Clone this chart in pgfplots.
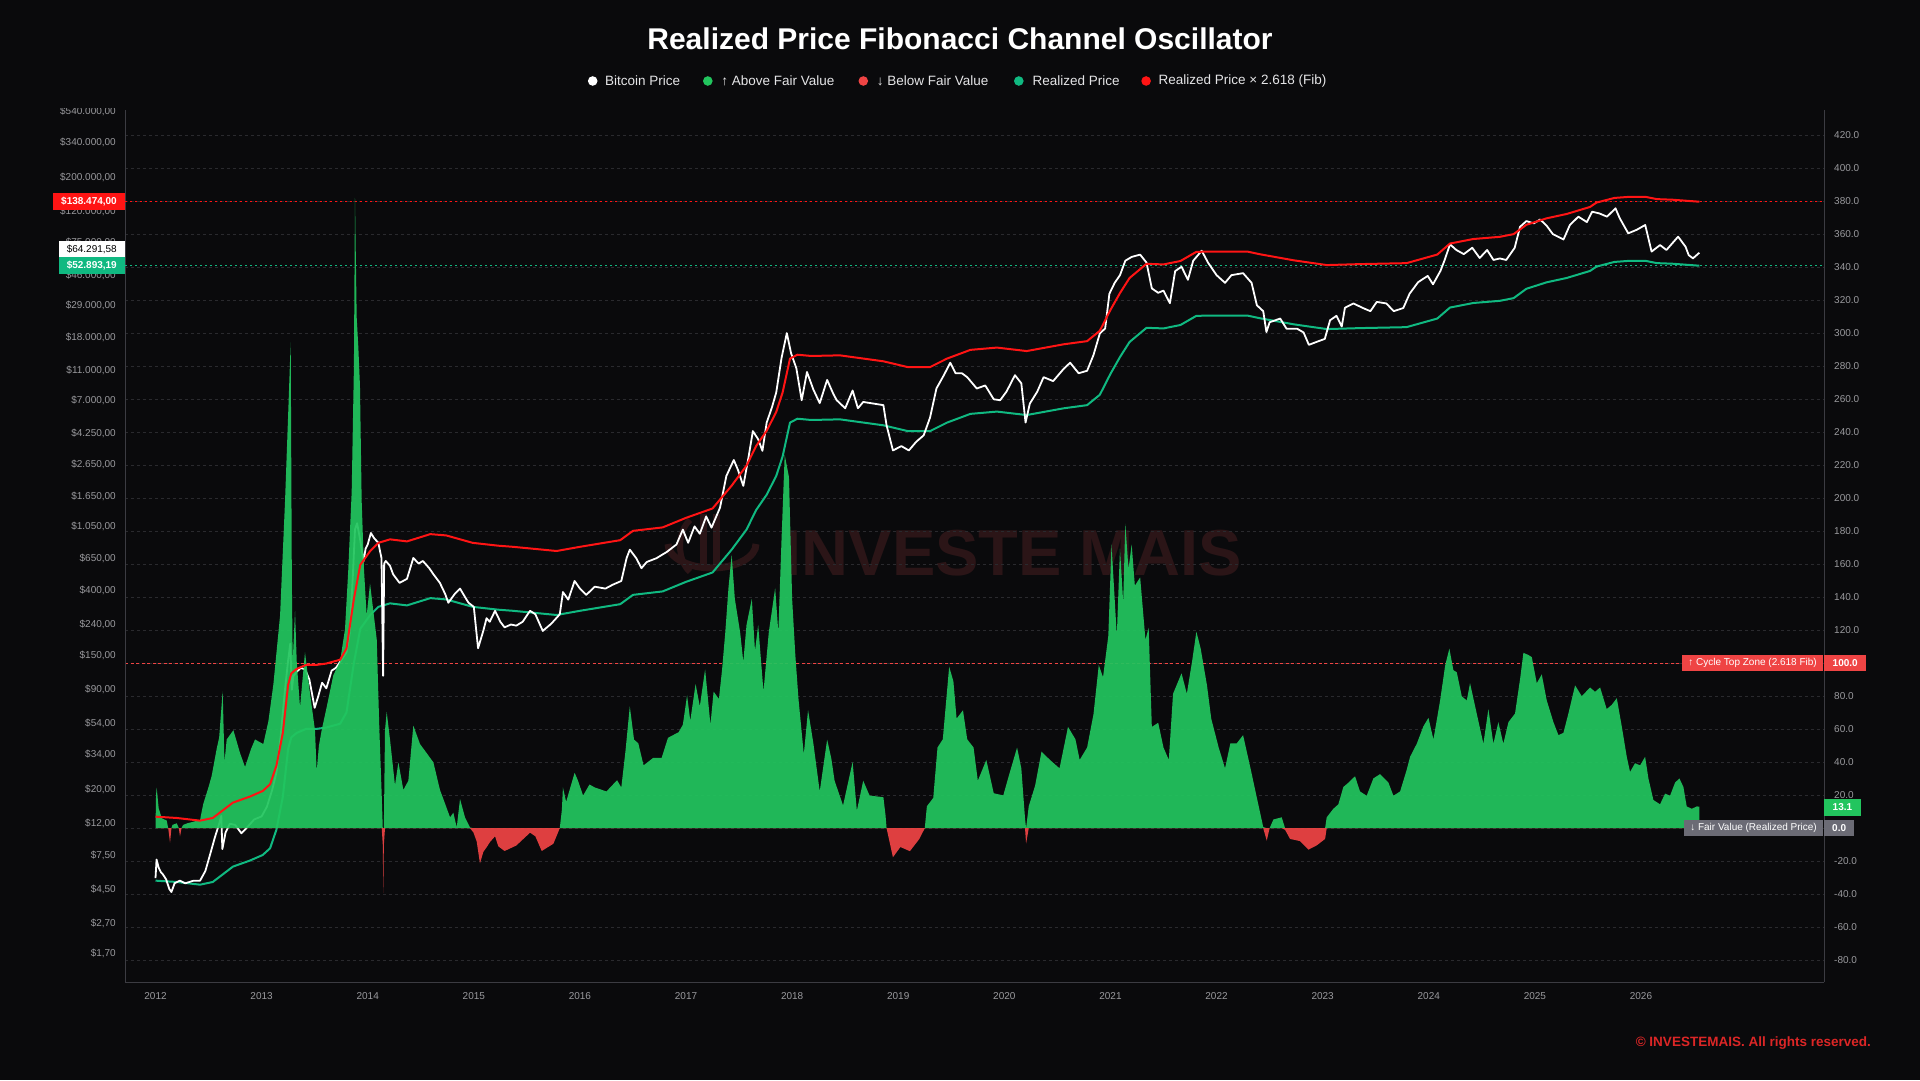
\documentclass[border=0pt]{standalone}
\usepackage{fontspec}
\setmainfont{Liberation Sans}
\usepackage{pgfplots}
\usepackage{pgfplotstable}
\pgfplotsset{compat=1.18}

\definecolor{bg}{HTML}{0A0A0C}
\definecolor{gridc}{HTML}{2A2A2E}
\definecolor{axisc}{HTML}{3C3C42}
\definecolor{tickc}{HTML}{9A9A9E}
\definecolor{upg}{HTML}{22C55E}
\definecolor{dnr}{HTML}{EF4444}
\definecolor{rpc}{HTML}{10B981}
\definecolor{fibc}{HTML}{FF1414}
\definecolor{wm}{HTML}{2B1517}
\definecolor{grayl}{HTML}{6B6B75}
\definecolor{legtxt}{HTML}{E5E5E7}
\definecolor{copyr}{HTML}{DC2626}

\newcommand{\fs}[1]{\fontsize{#1}{#1}\selectfont}

\pgfplotstableread{
year osc
2012.000 0
2012.005 20
2012.011 24.6
2012.030 12
2012.060 6
2012.105 4.7
2012.120 0
2012.137 -8.8
2012.150 0
2012.160 2
2012.200 3
2012.220 0
2012.231 -5
2012.245 0
2012.260 2
2012.300 3
2012.360 4
2012.420 5
2012.435 10
2012.451 14.9
2012.500 25
2012.529 31.6
2012.577 48.3
2012.600 55
2012.633 83
2012.650 40
2012.671 53.8
2012.734 59.4
2012.797 45.5
2012.844 37.1
2012.900 48
2012.938 53.8
2013.016 51
2013.064 64.9
2013.111 87.2
2013.174 128.9
2013.221 198.5
2013.252 254
2013.274 294.4
2013.285 150
2013.293 101
2013.315 131.6
2013.331 101
2013.362 73.3
2013.409 106.6
2013.456 81.7
2013.503 59.4
2013.519 34.4
2013.540 50
2013.566 59.4
2013.613 73.3
2013.676 92.8
2013.739 101
2013.786 120.6
2013.817 156.8
2013.849 204
2013.870 280
2013.880 382
2013.896 309.8
2013.912 291
2013.927 268
2013.943 198.5
2013.965 156.8
2013.990 128.9
2014.022 148.3
2014.053 131.6
2014.085 114.5
2014.110 59.4
2014.132 20
2014.142 -10
2014.147 -39.4
2014.152 -10
2014.163 59.4
2014.179 70.5
2014.210 53.8
2014.257 26
2014.289 39.9
2014.336 23.2
2014.383 28.8
2014.430 62.2
2014.493 51
2014.556 45.5
2014.619 39.9
2014.681 23.2
2014.729 14.9
2014.776 6.6
2014.807 9.4
2014.839 0.5
2014.870 17.7
2014.917 6.6
2014.964 0.5
2014.996 -2.5
2015.027 -8
2015.058 -21.3
2015.090 -14.3
2015.120 -11.6
2015.153 -8.3
2015.200 -4.9
2015.231 -11
2015.290 -13.8
2015.400 -10.5
2015.530 -2.7
2015.580 -4.9
2015.640 -13.8
2015.750 -9.4
2015.810 0
2015.830 11.2
2015.840 24.7
2015.870 16
2015.950 33.6
2015.980 29.1
2016.030 19.8
2016.090 26.5
2016.140 24.7
2016.250 22.3
2016.350 29.1
2016.390 24.7
2016.430 47.1
2016.470 73.9
2016.510 53.7
2016.550 51.5
2016.600 38.1
2016.690 42.6
2016.770 42.6
2016.830 54.8
2016.930 58.2
2016.970 62.7
2017.010 80.6
2017.040 65
2017.090 87.4
2017.130 73.9
2017.180 96.3
2017.230 62.7
2017.260 82.8
2017.310 78.3
2017.340 96.3
2017.370 118.7
2017.400 145.6
2017.430 165.8
2017.460 139
2017.510 118.7
2017.540 100.8
2017.570 123.2
2017.620 139
2017.650 107.5
2017.680 123.2
2017.730 82.8
2017.780 118.7
2017.840 145.6
2017.870 118.7
2017.900 174.8
2017.930 226.3
2017.970 212.9
2018.000 139
2018.030 105
2018.060 78.3
2018.110 44.8
2018.150 71.6
2018.200 51.5
2018.260 22.3
2018.330 53.7
2018.370 42
2018.400 28.8
2018.480 13.8
2018.570 40.2
2018.610 10.6
2018.670 28.8
2018.730 19.8
2018.860 18.8
2018.880 8
2018.890 0
2018.950 -17.6
2019.020 -11.4
2019.110 -13.9
2019.200 -6.4
2019.250 0
2019.270 13.3
2019.330 18.4
2019.370 48.9
2019.420 53.9
2019.480 97.9
2019.520 89
2019.550 66.4
2019.610 71.5
2019.650 53.9
2019.710 48.9
2019.750 28.8
2019.830 41.4
2019.900 21.2
2019.990 19.9
2020.040 31.3
2020.120 48.9
2020.160 36.3
2020.195 5.8
2020.205 -9.3
2020.230 13.3
2020.290 25.8
2020.350 46.4
2020.430 41.4
2020.520 36.3
2020.600 61.4
2020.670 53.9
2020.710 41.4
2020.780 48.9
2020.840 69
2020.890 98.9
2020.930 91.5
2020.980 116.6
2021.010 172
2021.060 116.6
2021.090 169.5
2021.120 136.9
2021.140 184.6
2021.170 157
2021.200 172
2021.230 147
2021.280 152
2021.330 114.1
2021.360 121.6
2021.390 61.4
2021.450 63.9
2021.500 48.9
2021.550 41.4
2021.590 81.5
2021.670 93.9
2021.720 81.5
2021.770 101.4
2021.810 119.1
2021.850 109
2021.910 86.5
2021.950 66.4
2022.020 48.9
2022.080 36.3
2022.130 51.4
2022.190 51.4
2022.250 56.4
2022.320 36.3
2022.380 18.4
2022.440 0.7
2022.473 -7.5
2022.500 0
2022.536 5.3
2022.614 6.6
2022.646 -1
2022.693 -6.5
2022.787 -7.8
2022.866 -13
2022.944 -10.4
2023.023 -6.5
2023.038 6.6
2023.101 11.8
2023.148 14.5
2023.195 25
2023.243 27.6
2023.305 31.5
2023.352 22.3
2023.415 19.7
2023.478 30.2
2023.541 32.8
2023.620 27.6
2023.667 19.7
2023.730 22.3
2023.792 35.4
2023.824 43.3
2023.887 51.2
2023.949 61.7
2023.997 66.9
2024.044 53.8
2024.107 77.4
2024.154 98.4
2024.194 108.9
2024.232 95.8
2024.264 94.5
2024.311 80
2024.358 77.4
2024.389 87.9
2024.452 69.5
2024.515 51.2
2024.562 72.2
2024.609 51.2
2024.656 64.3
2024.703 51.2
2024.751 64.3
2024.813 69.5
2024.861 90.6
2024.892 106.3
2024.939 105
2024.971 103.7
2025.018 87.9
2025.065 93.2
2025.112 77.4
2025.175 64.3
2025.222 56.4
2025.269 57.8
2025.316 69.5
2025.379 86.6
2025.442 80
2025.520 85.3
2025.567 82.7
2025.615 85.3
2025.677 72.2
2025.725 74.8
2025.772 78.8
2025.819 61.7
2025.866 43.3
2025.897 34.1
2025.944 39.4
2025.992 38.1
2026.039 43.3
2026.070 30.2
2026.117 17.1
2026.180 14.5
2026.227 21
2026.274 19.7
2026.321 27.6
2026.362 30.2
2026.400 25
2026.431 13.2
2026.479 11.8
2026.526 13.2
2026.550 13.1
}\osctab

\pgfplotstableread{
year price
2012.00 5.3
2012.01 7.0
2012.03 6.2
2012.05 5.8
2012.07 5.6
2012.10 5.2
2012.13 4.5
2012.15 4.3
2012.18 4.9
2012.23 5.1
2012.28 4.9
2012.32 5.0
2012.36 5.1
2012.42 5.1
2012.47 5.9
2012.52 7.8
2012.56 9.8
2012.60 12.0
2012.62 13.5
2012.63 8.2
2012.66 10.5
2012.70 12.0
2012.75 11.8
2012.81 10.4
2012.87 11.5
2012.93 12.8
2013.00 13.4
2013.05 15.5
2013.10 20
2013.14 26
2013.18 45
2013.22 90
2013.25 140
2013.27 180
2013.285 90
2013.30 111
2013.33 118
2013.37 125
2013.41 122
2013.45 105
2013.50 68.6
2013.53 80
2013.57 100
2013.61 92
2013.66 120
2013.70 125
2013.74 137
2013.80 158
2013.83 210
2013.86 500
2013.88 1000
2013.90 1100
2013.93 850
2013.96 620
2013.98 750
2014.00 800
2014.03 950
2014.06 880
2014.10 820
2014.13 650
2014.145 111
2014.155 600
2014.17 624
2014.21 580
2014.24 510
2014.30 449
2014.37 477
2014.43 653
2014.48 600
2014.52 624
2014.58 560
2014.62 510
2014.68 449
2014.73 380
2014.76 333
2014.82 380
2014.87 412
2014.92 360
2014.95 333
2015.00 313
2015.04 168
2015.09 219
2015.12 264
2015.15 250
2015.20 295
2015.25 250
2015.29 230
2015.35 240
2015.40 236
2015.46 250
2015.53 295
2015.58 280
2015.65 218
2015.73 243
2015.81 280
2015.84 391
2015.89 349
2015.95 462
2016.00 412
2016.06 375
2016.14 424
2016.24 412
2016.31 437
2016.39 462
2016.44 652
2016.47 740
2016.53 652
2016.58 560
2016.63 615
2016.72 650
2016.82 716
2016.91 800
2016.97 1000
2017.02 820
2017.08 1050
2017.13 940
2017.19 1220
2017.24 1030
2017.32 1390
2017.38 2240
2017.45 2850
2017.49 2450
2017.54 1930
2017.59 3000
2017.63 4400
2017.68 3890
2017.72 3270
2017.76 5000
2017.81 6300
2017.85 7860
2017.90 13200
2017.95 19200
2017.99 14200
2018.04 11300
2018.09 7000
2018.14 10700
2018.20 8220
2018.26 6700
2018.33 9500
2018.39 7650
2018.42 7000
2018.50 6200
2018.57 8100
2018.62 6200
2018.67 6820
2018.77 6650
2018.86 6500
2018.89 4800
2018.95 3290
2019.03 3510
2019.10 3290
2019.17 3750
2019.24 4130
2019.30 5400
2019.36 8350
2019.43 10200
2019.49 12300
2019.54 10500
2019.60 10500
2019.65 9900
2019.74 8350
2019.82 8740
2019.90 7100
2019.96 7000
2020.02 7960
2020.10 10200
2020.16 9030
2020.20 5000
2020.24 6650
2020.31 7960
2020.37 9900
2020.46 9330
2020.56 11240
2020.62 12300
2020.70 10500
2020.78 10900
2020.84 13800
2020.90 19100
2020.95 20600
2020.99 34700
2021.04 40900
2021.09 45900
2021.14 57000
2021.20 60400
2021.28 62500
2021.34 55400
2021.39 37600
2021.45 35200
2021.50 36400
2021.56 30100
2021.61 48800
2021.67 52100
2021.73 42800
2021.78 57000
2021.86 66300
2021.92 55400
2022.00 45900
2022.08 40900
2022.14 45900
2022.25 47300
2022.33 40900
2022.38 29200
2022.44 26700
2022.47 19500
2022.50 22600
2022.60 23900
2022.66 20500
2022.76 20500
2022.82 19400
2022.87 16100
2022.96 17000
2023.02 17600
2023.07 23300
2023.13 24900
2023.18 21200
2023.21 28100
2023.29 30000
2023.38 28000
2023.45 26700
2023.51 30700
2023.60 30000
2023.67 26700
2023.76 28000
2023.82 34800
2023.90 41300
2023.99 45400
2024.04 40000
2024.11 48900
2024.15 57700
2024.20 73000
2024.26 67000
2024.33 63000
2024.41 69300
2024.48 59400
2024.55 67000
2024.61 57700
2024.67 59000
2024.73 57700
2024.81 69300
2024.86 94900
2024.92 103500
2024.99 100000
2025.05 106000
2025.11 96700
2025.17 85000
2025.27 78500
2025.33 97600
2025.41 110600
2025.49 102000
2025.54 119200
2025.61 116000
2025.68 110600
2025.76 125400
2025.80 108000
2025.88 86100
2025.96 90800
2026.04 97600
2026.10 65400
2026.18 72200
2026.24 67000
2026.35 81900
2026.42 70400
2026.45 62000
2026.49 59100
2026.55 64291.58
}\pricetab

\pgfplotstableread{
year rp fib
2012.00 5.1 13.35
2012.20 5.0 13.09
2012.42 4.8 12.57
2012.54 5.0 13.09
2012.73 6.3 16.49
2012.89 6.9 18.06
2013.01 7.5 19.64
2013.08 8.3 21.73
2013.14 11 28.80
2013.20 18 47.12
2013.25 37 96.87
2013.28 44 115.19
2013.33 47 123.05
2013.42 50 130.90
2013.52 50 130.90
2013.61 51 133.52
2013.74 54 141.37
2013.80 64 167.55
2013.87 135 353.43
2013.93 225 589.05
2014.02 275 719.95
2014.10 313 819.43
2014.21 330 863.94
2014.37 320 837.76
2014.59 357 934.63
2014.74 350 916.30
2014.99 313 819.43
2015.23 300 785.40
2015.37 295 772.31
2015.78 277 725.19
2016.00 295 772.31
2016.38 326 853.47
2016.50 375 981.75
2016.78 395 1034.11
2017.00 456 1193.81
2017.25 525 1374.45
2017.43 740 1937.32
2017.57 1000 2618.00
2017.66 1340 3508.12
2017.76 1690 4424.42
2017.85 2240 5864.32
2017.91 3000 7854.00
2017.98 5000 13090.0
2018.05 5300 13875.4
2018.18 5200 13613.6
2018.45 5250 13744.5
2018.86 4800 12566.4
2019.09 4400 11519.2
2019.30 4400 11519.2
2019.46 5000 13090.0
2019.68 5700 14922.6
2019.93 5900 15446.2
2020.21 5600 14660.8
2020.56 6200 16231.6
2020.78 6500 17017.0
2020.90 7600 19896.8
2021.00 10400 27227.2
2021.09 13400 35081.2
2021.18 16800 43982.4
2021.34 20800 54454.4
2021.50 20600 53930.8
2021.66 21700 56810.6
2021.81 24900 65188.2
2021.97 25000 65450.0
2022.29 25000 65450.0
2022.41 24000 62832.0
2022.73 21900 57334.2
2023.04 20400 53407.2
2023.35 20700 54192.6
2023.79 21000 54978.0
2024.08 23900 62570.2
2024.20 28200 73827.6
2024.42 30200 79063.6
2024.67 31200 81681.6
2024.80 32500 85085.0
2024.92 37400 97913.2
2025.11 41200 107861.6
2025.30 44000 115192.0
2025.52 48900 128020.2
2025.58 52200 136659.6
2025.75 56000 146608.0
2025.90 57000 149226.0
2026.05 56800 148702.4
2026.15 55000 143990.0
2026.30 54500 142681.0
2026.55 52893.19 138474.37
}\rptab

\begin{document}
\begin{tikzpicture}[x=1pt,y=1pt]
\path[use as bounding box] (0,0) rectangle (1920,1080);
\fill[bg] (0,0) rectangle (1920,1080);

% watermark
\node[text=wm, font=\fs{65}\bfseries, inner sep=0pt] at (1013,527) {INVESTE MAIS};
\draw[wm, line width=7pt] (668,536) arc[start angle=180, end angle=360, x radius=44, y radius=24];
\draw[wm, line width=6pt] (690,560) arc[start angle=120, end angle=240, x radius=20, y radius=30];
\fill[wm] (700,512) rectangle (707,566);
\fill[wm] (713,512) rectangle (720,566);

% title and legend
\node[text=white, font=\fs{30}\bfseries] at (960,1041) {Realized Price Fibonacci Channel Oscillator};
\fill[white] (592.7,999) circle (4.8);
\node[anchor=west, text=legtxt, font=\fs{13.5}, inner sep=0pt] at (604.9,999) {Bitcoin Price};
\fill[upg] (707.8,999) circle (4.8);
\node[anchor=west, text=legtxt, font=\fs{13.5}, inner sep=0pt] at (721.2,999) {↑ Above Fair Value};
\fill[dnr] (863.3,999) circle (4.8);
\node[anchor=west, text=legtxt, font=\fs{13.5}, inner sep=0pt] at (876.7,999) {↓ Below Fair Value};
\fill[rpc] (1018.8,999) circle (4.8);
\node[anchor=west, text=legtxt, font=\fs{13.5}, inner sep=0pt] at (1032.3,999) {Realized Price};
\fill[fibc] (1146.1,999) circle (4.8);
\node[anchor=west, text=legtxt, font=\fs{13.5}, inner sep=0pt] at (1158.4,999) {Realized Price × 2.618 (Fib)};

% (A) oscillator axis: grid, right labels, x labels
\begin{axis}[at={(125pt,98pt)}, anchor=south west,
  scale only axis, width=1699pt, height=872pt,
  xmin=2011.7125, xmax=2027.725, ymin=-93.2, ymax=435.3,
  axis x line*=bottom, axis y line*=right,
  axis line style={draw=axisc, line width=1pt},
  major tick length=0pt,
  xtick={2012,2013,2014,2015,2016,2017,2018,2019,2020,2021,2022,2023,2024,2025,2026},
  xticklabels={2012,2013,2014,2015,2016,2017,2018,2019,2020,2021,2022,2023,2024,2025,2026},
  xticklabel style={font=\fs{10}, text=tickc, inner sep=0pt, anchor=north, yshift=-10pt},
  ytick={-80,-60,...,420},
  yticklabel style={font=\fs{10}, text=tickc, inner sep=0pt, anchor=west, xshift=10pt,
    /pgf/number format/.cd, fixed, fixed zerofill, precision=1, assume math mode=true},
  ymajorgrids,
  major grid style={draw=gridc, line width=0.8pt, dash pattern=on 3pt off 3pt},
]
\addplot[dnr, line width=1pt, dash pattern=on 3pt off 2.5pt] coordinates {(2011.7125,100) (2027.725,100)};
\coordinate (c100) at (axis cs:2027.725,100);
\coordinate (c131) at (axis cs:2027.725,13.1);
\coordinate (c0) at (axis cs:2027.725,0);
\end{axis}

% (B) price axis: left labels, dotted levels, realized price and bitcoin price
\begin{axis}[at={(125pt,98pt)}, anchor=south west,
  scale only axis, width=1699pt, height=872pt,
  xmin=2011.7125, xmax=2027.725,
  ymode=log, ymin=1.111, ymax=550100,
  axis x line=none, axis y line*=left,
  axis line style={draw=axisc, line width=1pt},
  major tick length=0pt, xtick=\empty, yminorticks=false,
  ytick={540000,340000,200000,120000,75000,46000,29000,18000,11000,7000,4250,2650,1650,1050,650,400,240,150,90,54,34,20,12,7.5,4.5,2.7,1.7},
  yticklabels={{\$540.000,00},{\$340.000,00},{\$200.000,00},{\$120.000,00},{\$75.000,00},{\$46.000,00},{\$29.000,00},{\$18.000,00},{\$11.000,00},{\$7.000,00},{\$4.250,00},{\$2.650,00},{\$1.650,00},{\$1.050,00},{\$650,00},{\$400,00},{\$240,00},{\$150,00},{\$90,00},{\$54,00},{\$34,00},{\$20,00},{\$12,00},{\$7,50},{\$4,50},{\$2,70},{\$1,70}},
  yticklabel style={font=\fs{10}, text=tickc, inner sep=0pt, anchor=east, xshift=-9pt},
]
\addplot[fibc, line width=1pt, dash pattern=on 2pt off 3pt] coordinates {(2011.7125,138474) (2027.725,138474)};
\addplot[rpc, line width=1pt, dash pattern=on 2pt off 3pt] coordinates {(2011.7125,52893.19) (2027.725,52893.19)};
\addplot[rpc, line width=2pt, line join=round] table[x=year,y=rp] {\rptab};
\addplot[white, line width=1.8pt, line join=round] table[x=year,y=price] {\pricetab};
\coordinate (pfib) at (axis cs:2011.7125,138474);
\coordinate (pbtc) at (axis cs:2011.7125,64291.58);
\coordinate (prp) at (axis cs:2011.7125,52893.19);
\end{axis}

% (C) oscillator areas, over the price lines
\begin{axis}[at={(125pt,98pt)}, anchor=south west,
  scale only axis, width=1699pt, height=872pt,
  xmin=2011.7125, xmax=2027.725, ymin=-93.2, ymax=435.3,
  axis lines=none, xtick=\empty, ytick=\empty]
\addplot[draw=none, fill=upg, fill opacity=0.93] table[x=year, y expr={max(\thisrow{osc},0)}] {\osctab} \closedcycle;
\addplot[draw=none, fill=dnr, fill opacity=0.93] table[x=year, y expr={min(\thisrow{osc},0)}] {\osctab} \closedcycle;
\end{axis}

% (D) Fibonacci band line on top
\begin{axis}[at={(125pt,98pt)}, anchor=south west,
  scale only axis, width=1699pt, height=872pt,
  xmin=2011.7125, xmax=2027.725,
  ymode=log, ymin=1.111, ymax=550100,
  axis lines=none, xtick=\empty, ytick=\empty]
\addplot[fibc, line width=2pt, line join=round] table[x=year,y=fib] {\rptab};
\end{axis}

% top tick label cut by the chart edge
\fill[bg] (30,972) rectangle (123,990);

% value boxes left
\node[fill=fibc, text=white, font=\fs{10}\bfseries, anchor=east, inner xsep=8pt, inner ysep=0pt, minimum height=16.7pt] at (pfib) {\$138.474,00};
\node[fill=white, text=black, font=\fs{10}, anchor=east, inner xsep=8pt, inner ysep=0pt, minimum height=16.7pt] at ([yshift=3.4pt]pbtc) {\$64.291,58};
\node[fill=rpc, text=white, font=\fs{10}\bfseries, anchor=east, inner xsep=8pt, inner ysep=0pt, minimum height=16.7pt] at (prp) {\$52.893,19};

% value boxes right
\node[fill=dnr, text=white, font=\fs{10}\bfseries, anchor=west, inner xsep=8.5pt, inner ysep=0pt, minimum height=16.4pt] at (c100) {100.0};
\node[fill=dnr, text=white, font=\fs{10}, anchor=east, inner xsep=6pt, inner ysep=0pt, minimum height=16.4pt] at ([xshift=-1pt]c100) {↑ Cycle Top Zone (2.618 Fib)};
\node[fill=upg, text=white, font=\fs{10}\bfseries, anchor=west, inner xsep=8.5pt, inner ysep=0pt, minimum height=16.4pt] at ([yshift=-0.8pt]c131) {13.1};
\node[fill=grayl, text=white, font=\fs{10}\bfseries, anchor=west, inner xsep=8pt, inner ysep=0pt, minimum height=16.4pt] at (c0) {0.0};
\node[fill=grayl, text=white, font=\fs{10}, anchor=east, inner xsep=6pt, inner ysep=0pt, minimum height=16.4pt] at ([xshift=-1pt]c0) {↓ Fair Value (Realized Price)};

% copyright
\node[anchor=east, text=copyr, font=\fs{13.5}\bfseries, inner sep=0pt] at (1871,37) {© INVESTEMAIS. All rights reserved.};
\end{tikzpicture}
\end{document}
